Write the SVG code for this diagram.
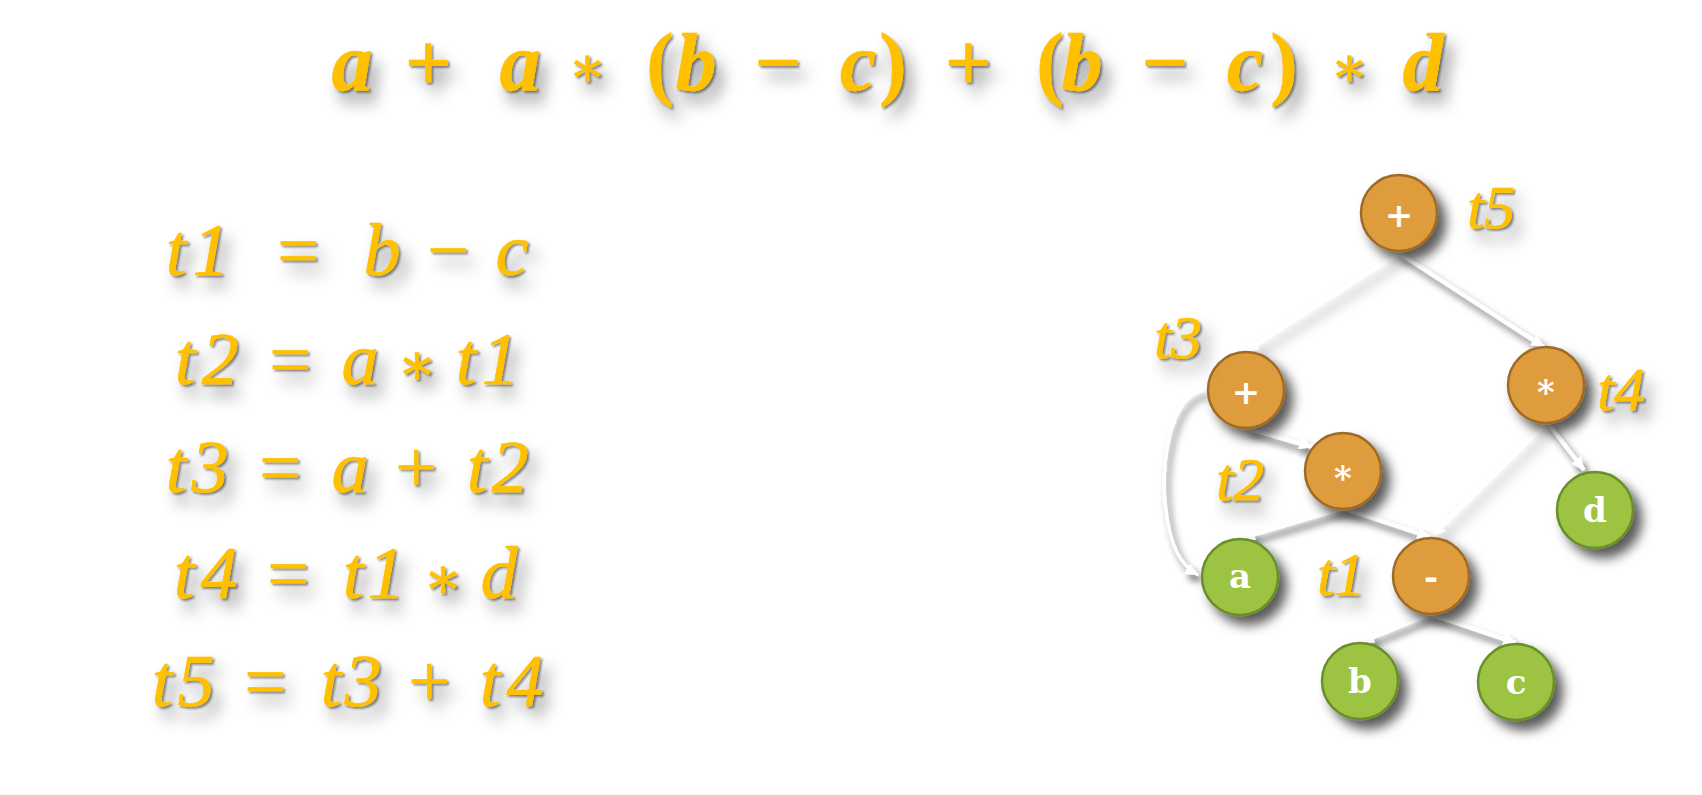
<svg xmlns="http://www.w3.org/2000/svg" width="1702" height="795" viewBox="0 0 1702 795">
<defs>
<filter id="ts" x="-20%" y="-40%" width="160%" height="200%">
<feGaussianBlur in="SourceAlpha" stdDeviation="8" result="b2"/>
<feOffset in="b2" dx="8" dy="12" result="o2"/>
<feColorMatrix in="o2" type="matrix" values="0 0 0 0 0  0 0 0 0 0  0 0 0 0 0  0 0 0 0.4 0" result="s2"/>
<feGaussianBlur in="SourceAlpha" stdDeviation="1" result="b1"/>
<feOffset in="b1" dx="2" dy="2" result="o1"/>
<feColorMatrix in="o1" type="matrix" values="0 0 0 0 0  0 0 0 0 0  0 0 0 0 0  0 0 0 0.45 0" result="s1"/>
<feMerge><feMergeNode in="s2"/><feMergeNode in="s1"/><feMergeNode in="SourceGraphic"/></feMerge>
</filter>
<filter id="ns" x="-40%" y="-40%" width="200%" height="200%"><feDropShadow dx="8" dy="9" stdDeviation="6" flood-color="#000" flood-opacity="0.65"/></filter>
<filter id="ls" x="-30%" y="-30%" width="160%" height="160%"><feDropShadow dx="4" dy="6" stdDeviation="3.5" flood-color="#000" flood-opacity="0.6"/></filter>
<filter id="lf" x="-30%" y="-30%" width="160%" height="160%"><feDropShadow dx="6" dy="8" stdDeviation="6" flood-color="#000" flood-opacity="0.3"/></filter>
<marker id="ah" viewBox="0 0 12 10" refX="11" refY="5" markerWidth="14" markerHeight="12" markerUnits="userSpaceOnUse" orient="auto"><path d="M0,0 L12,5 L0,10 z" fill="#fff"/></marker>
<style>
.m{font-family:"Liberation Serif","DejaVu Serif",serif;font-style:italic;fill:#FFC000;stroke:#FFC000;stroke-width:0.6;text-anchor:middle}
.op{font-style:normal;font-family:"DejaVu Serif","Liberation Serif",serif}
.up{font-style:normal}
.eq{font-size:74px}
.ttl{font-size:82px;font-weight:bold;stroke-width:0.5}
.lbl{font-size:62px}
.e{fill:none;stroke:#fff;stroke-width:4;marker-end:url(#ah)}
.op-n{fill:#DE9C3E;stroke:#9E6B25;stroke-width:2.5}
.lf-n{fill:#9CC443;stroke:#6B8E2A;stroke-width:2.5}
.nt{font-family:"DejaVu Serif","Liberation Serif",serif;font-weight:bold;font-size:34px;fill:#fff;text-anchor:middle}
</style>
</defs>
<rect width="1702" height="795" fill="#fff"/>

<g id="title" filter="url(#ts)">
<text class="m ttl" y="90"><tspan x="352">a</tspan><tspan x="428" class="up">+</tspan><tspan x="520">a</tspan><tspan x="587" class="op" font-size="56" font-weight="normal" dy="-4">∗</tspan><tspan x="660" class="up" dy="4">(</tspan><tspan x="696">b</tspan><tspan x="778" class="up">−</tspan><tspan x="858">c</tspan><tspan x="893" class="up">)</tspan><tspan x="968" class="up">+</tspan><tspan x="1050" class="up">(</tspan><tspan x="1082">b</tspan><tspan x="1165" class="up">−</tspan><tspan x="1245">c</tspan><tspan x="1284" class="up">)</tspan><tspan x="1349" class="op" font-size="56" font-weight="normal" dy="-4">∗</tspan><tspan x="1423" dy="4">d</tspan></text>
</g>

<g id="equations" filter="url(#ts)">
<text class="m eq" y="275"><tspan x="176">t</tspan><tspan x="211">1</tspan><tspan x="298" class="up">=</tspan><tspan x="382">b</tspan><tspan x="448" class="up">−</tspan><tspan x="512">c</tspan></text>
<text class="m eq" y="384"><tspan x="185">t</tspan><tspan x="220">2</tspan><tspan x="290" class="up">=</tspan><tspan x="360">a</tspan><tspan x="417" class="op" font-size="58">∗</tspan><tspan x="466">t</tspan><tspan x="500">1</tspan></text>
<text class="m eq" y="492"><tspan x="176">t</tspan><tspan x="210">3</tspan><tspan x="280" class="up">=</tspan><tspan x="350">a</tspan><tspan x="416" class="up">+</tspan><tspan x="477">t</tspan><tspan x="510">2</tspan></text>
<text class="m eq" y="598"><tspan x="184">t</tspan><tspan x="219">4</tspan><tspan x="288" class="up">=</tspan><tspan x="353">t</tspan><tspan x="386">1</tspan><tspan x="443" class="op" font-size="58">∗</tspan><tspan x="499">d</tspan></text>
<text class="m eq" y="706"><tspan x="162">t</tspan><tspan x="196">5</tspan><tspan x="265" class="up">=</tspan><tspan x="331">t</tspan><tspan x="363">3</tspan><tspan x="429" class="up">+</tspan><tspan x="490">t</tspan><tspan x="525">4</tspan></text>
</g>

<g id="connectors">
<line class="e" x1="1399" y1="253" x2="1246" y2="351" filter="url(#lf)"/>
<line class="e" x1="1544" y1="425" x2="1432" y2="536" filter="url(#lf)"/>
<g filter="url(#ls)">
<line class="e" x1="1399" y1="253" x2="1544" y2="347"/>
<line class="e" x1="1246" y1="428" x2="1312" y2="447"/>
<path class="e" style="stroke-width:3" d="M1205,390 C1168,395 1160,470 1166,510 C1170,545 1180,565 1198,575"/>
<line class="e" x1="1343" y1="508" x2="1242" y2="538"/>
<line class="e" x1="1343" y1="508" x2="1430" y2="537"/>
<line class="e" x1="1547" y1="422" x2="1584" y2="470"/>
<line class="e" x1="1430" y1="614" x2="1361" y2="642"/>
<line class="e" x1="1430" y1="614" x2="1516" y2="643"/>
</g>
</g>

<g id="t5"><circle class="op-n" cx="1399" cy="213" r="38" filter="url(#ns)"/><text class="nt" x="1399" y="227">+</text><text class="m lbl" x="1491" y="228" filter="url(#ts)">t5</text></g>
<g id="t3"><circle class="op-n" cx="1246" cy="390" r="38" filter="url(#ns)"/><text class="nt" x="1246" y="404">+</text><text class="m lbl" x="1178" y="358" filter="url(#ts)">t3</text></g>
<g id="t4"><circle class="op-n" cx="1546" cy="385" r="38" filter="url(#ns)"/><text class="nt" x="1546" y="404">*</text><text class="m lbl" x="1621" y="410" filter="url(#ts)">t4</text></g>
<g id="t2"><circle class="op-n" cx="1343" cy="471" r="38" filter="url(#ns)"/><text class="nt" x="1343" y="490">*</text><text class="m lbl" x="1240" y="500" filter="url(#ts)">t2</text></g>
<g id="t1"><circle class="op-n" cx="1431" cy="576" r="38" filter="url(#ns)"/><text class="nt" x="1431" y="589">-</text><text class="m lbl" x="1341" y="595" filter="url(#ts)">t1</text></g>
<g id="a"><circle class="lf-n" cx="1240" cy="577" r="38" filter="url(#ns)"/><text class="nt" x="1240" y="588">a</text></g>
<g id="d"><circle class="lf-n" cx="1595" cy="510" r="38" filter="url(#ns)"/><text class="nt" x="1595" y="522">d</text></g>
<g id="b"><circle class="lf-n" cx="1360" cy="681" r="38" filter="url(#ns)"/><text class="nt" x="1360" y="693">b</text></g>
<g id="c"><circle class="lf-n" cx="1516" cy="682" r="38" filter="url(#ns)"/><text class="nt" x="1516" y="694">c</text></g>
</svg>
